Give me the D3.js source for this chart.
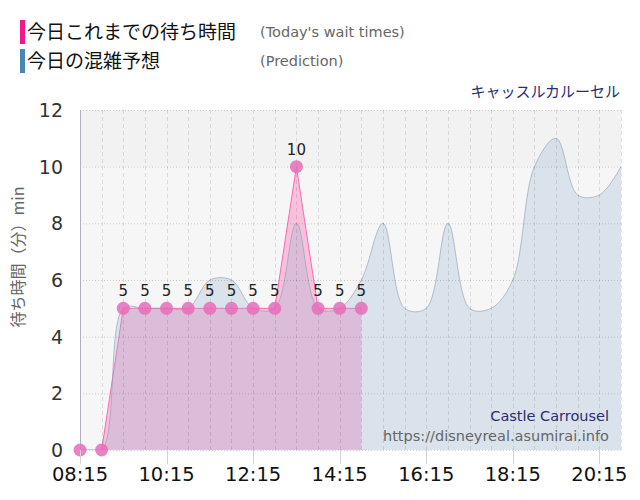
<!DOCTYPE html>
<html>
<head>
<meta charset="utf-8">
<script src="https://cdn.jsdelivr.net/npm/d3@7"></script>
<style>
  html, body { margin: 0; padding: 0; background: #fff; }
  svg { display: block; }
</style>
</head>
<body>
<div id="chart"></div>
<script>
// 時刻（30分ごと）
const times = ["08:15","08:45","09:15","09:45","10:15","10:45","11:15","11:45","12:15","12:45",
               "13:15","13:45","14:15","14:45","15:15","15:45","16:15","16:45","17:15","17:45",
               "18:15","18:45","19:15","19:45","20:15","20:45"];
// 今日の混雑予想
const prediction = [0,0,5,5,5,5,6,6,5,5,8,5,5,6,8,5,5,8,5,5,6,10,11,9,9,10];
// 今日これまでの待ち時間
const waitTimes = [0,0,5,5,5,5,5,5,5,5,10,5,5,5];
// 目盛り
const xTickLabels = ["08:15","10:15","12:15","14:15","16:15","18:15","20:15"];
const yTicks = [0,2,4,6,8,10,12];

const W = 640, H = 500;
const plot = { left: 80, right: 621, top: 110, bottom: 450 };

const toMin = s => { const [h, m] = s.split(":").map(Number); return h * 60 + m; };

const x = d3.scaleLinear()
    .domain([toMin(times[0]), toMin(times[times.length - 1])])
    .range([plot.left, plot.right]);
const y = d3.scaleLinear().domain([0, 12]).range([plot.bottom, plot.top]);

const svg = d3.select("#chart").append("svg")
    .attr("width", W).attr("height", H);

svg.append("defs").append("clipPath").attr("id", "plot-clip")
  .append("rect")
    .attr("x", plot.left).attr("y", plot.top)
    .attr("width", plot.right - plot.left).attr("height", plot.bottom - plot.top);

// 背景
svg.append("rect")
    .attr("x", plot.left).attr("y", plot.top)
    .attr("width", plot.right - plot.left).attr("height", plot.bottom - plot.top)
    .attr("fill", "#f6f6f6");
svg.append("rect")
    .attr("x", plot.left).attr("y", y(12))
    .attr("width", plot.right - plot.left).attr("height", y(10) - y(12))
    .attr("fill", "#f2f2f2");

const predData = times.map((t, i) => ({ t: toMin(t), v: prediction[i] }));
const waitData = waitTimes.map((v, i) => ({ t: toMin(times[i]), v: v }));

const g = svg.append("g").attr("clip-path", "url(#plot-clip)");

// 実績エリア（下）
g.append("path")
    .datum(waitData)
    .attr("fill", "rgba(255,105,180,0.38)")
    .attr("d", d3.area().x(d => x(d.t)).y0(y(0)).y1(d => y(d.v)));
g.append("path")
    .datum(waitData)
    .attr("fill", "none")
    .attr("stroke", "#f66cb6")
    .attr("stroke-width", 1)
    .attr("d", d3.line().x(d => x(d.t)).y(d => y(d.v)));

// 混雑予想エリア（上、半透明）
g.append("path")
    .datum(predData)
    .attr("fill", "rgba(153,183,213,0.3)")
    .attr("d", d3.area().curve(d3.curveCatmullRom)
        .x(d => x(d.t)).y0(y(0)).y1(d => y(d.v)));
g.append("path")
    .datum(predData)
    .attr("fill", "none")
    .attr("stroke", "rgba(140,156,175,0.6)")
    .attr("stroke-width", 1)
    .attr("d", d3.line().curve(d3.curveCatmullRom)
        .x(d => x(d.t)).y(d => y(d.v)));

// グリッド
svg.append("g").selectAll("line")
    .data(yTicks)
    .enter().append("line")
    .attr("x1", plot.left).attr("x2", plot.right)
    .attr("y1", d => y(d) + 0.5).attr("y2", d => y(d) + 0.5)
    .attr("stroke", "rgba(0,0,0,0.17)")
    .attr("stroke-dasharray", "1,2");

svg.append("g").selectAll("line")
    .data(times.slice(1))
    .enter().append("line")
    .attr("x1", d => Math.round(x(toMin(d))) + 0.5).attr("x2", d => Math.round(x(toMin(d))) + 0.5)
    .attr("y1", plot.top).attr("y2", plot.bottom)
    .attr("stroke", "rgba(0,0,0,0.11)")
    .attr("stroke-dasharray", "4,3");

// 左軸線
svg.append("line")
    .attr("x1", plot.left + 0.5).attr("x2", plot.left + 0.5)
    .attr("y1", plot.top).attr("y2", plot.bottom)
    .attr("stroke", "#b0b0bc");

// マーカー
svg.append("g").selectAll("circle")
    .data(waitData)
    .enter().append("circle")
    .attr("cx", d => x(d.t)).attr("cy", d => y(d.v))
    .attr("r", 6.5)
    .attr("fill", "#e86cb8")
    .attr("fill-opacity", 0.85);

// データラベル
svg.append("g").selectAll("text")
    .data(waitData.filter(d => d.v > 0))
    .enter().append("text")
    .attr("x", d => x(d.t)).attr("y", d => y(d.v) - 12)
    .attr("text-anchor", "middle")
    .attr("font-family", "DejaVu Sans")
    .attr("font-size", "15px")
    .attr("fill", "#222")
    .text(d => d.v);

// X軸
const xAxis = svg.append("g");
xAxis.selectAll("line")
    .data(xTickLabels)
    .enter().append("line")
    .attr("x1", d => Math.round(x(toMin(d))) + 0.5).attr("x2", d => Math.round(x(toMin(d))) + 0.5)
    .attr("y1", plot.bottom).attr("y2", plot.bottom + 14)
    .attr("stroke", "#d4d4d4");
xAxis.selectAll("text")
    .data(xTickLabels)
    .enter().append("text")
    .attr("x", d => x(toMin(d))).attr("y", 481)
    .attr("text-anchor", "middle")
    .attr("font-family", "DejaVu Sans")
    .attr("font-size", "19.5px")
    .attr("fill", "#111")
    .text(d => d);

// Y軸
svg.append("g").selectAll("text")
    .data(yTicks)
    .enter().append("text")
    .attr("x", 63).attr("y", d => y(d) + 7)
    .attr("text-anchor", "end")
    .attr("font-family", "DejaVu Sans")
    .attr("font-size", "19px")
    .attr("fill", "#333")
    .text(d => d);

svg.append("text")
    .attr("transform", "translate(24,257) rotate(-90)")
    .attr("text-anchor", "middle")
    .attr("font-family", "Noto Sans CJK JP")
    .attr("font-size", "16px")
    .attr("fill", "#666")
    .text("待ち時間（分）min");

// 凡例
const legend = [
    { color: "#f2178d", label: "今日これまでの待ち時間", sub: "(Today's wait times)" },
    { color: "#4a86b8", label: "今日の混雑予想", sub: "(Prediction)" }
];
legend.forEach((d, i) => {
    const top = 20 + i * 29;
    svg.append("rect")
        .attr("x", 20).attr("y", top).attr("width", 5).attr("height", 24)
        .attr("fill", d.color);
    svg.append("text")
        .attr("x", 27).attr("y", top + 19)
        .attr("font-family", "Noto Sans CJK JP")
        .attr("font-size", "19px")
        .attr("fill", "#111")
        .text(d.label);
    svg.append("text")
        .attr("x", 260).attr("y", top + 17)
        .attr("font-family", "DejaVu Sans")
        .attr("font-size", "14.5px")
        .attr("fill", "#666")
        .text(d.sub);
});

// タイトル
svg.append("text")
    .attr("x", 620).attr("y", 97)
    .attr("text-anchor", "end")
    .attr("font-family", "Noto Sans CJK JP")
    .attr("font-size", "15px")
    .attr("fill", "#2b2d6e")
    .text("キャッスルカルーセル");

svg.append("text")
    .attr("x", 609).attr("y", 421)
    .attr("text-anchor", "end")
    .attr("font-family", "DejaVu Sans")
    .attr("font-size", "14.5px")
    .attr("fill", "#2b2d6e")
    .text("Castle Carrousel");
svg.append("text")
    .attr("x", 609).attr("y", 441)
    .attr("text-anchor", "end")
    .attr("font-family", "DejaVu Sans")
    .attr("font-size", "14.5px")
    .attr("fill", "#666")
    .text("https://disneyreal.asumirai.info");
</script>
</body>
</html>
